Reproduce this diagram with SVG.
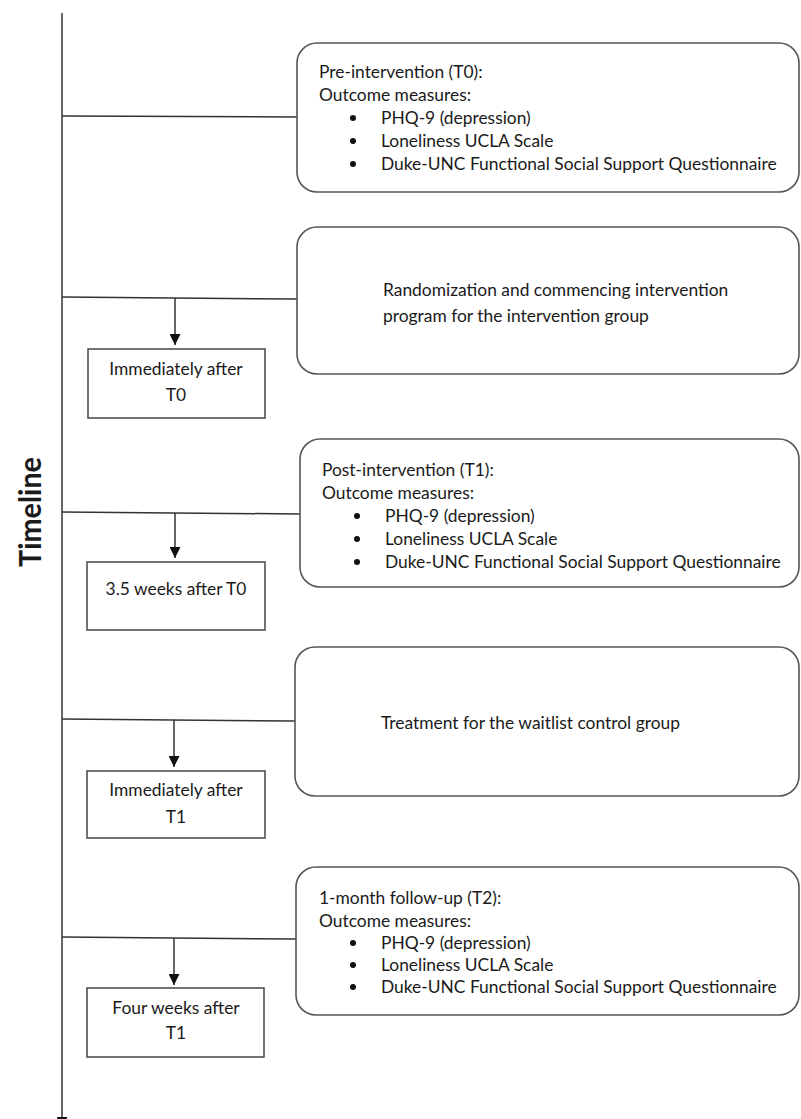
<svg xmlns="http://www.w3.org/2000/svg" width="801" height="1119" viewBox="0 0 801 1119">
<defs>
<marker id="ah" viewBox="0 0 10 10" refX="10" refY="5" markerWidth="11" markerHeight="11" markerUnits="userSpaceOnUse" orient="auto">
<path d="M0,0 L10,5 L0,10 Z" fill="#111"/>
</marker>
</defs>
<style>
.ln{stroke:#333;stroke-width:1.5;fill:none}
.rb{fill:#fff;stroke:#555;stroke-width:1.6}
.sb{fill:#fff;stroke:#444;stroke-width:1.5}
text{font-family:Lato,"Liberation Sans",sans-serif;font-size:17.4px;fill:#1a1a1a}
.c{text-anchor:middle}
.bul{fill:#111}
</style>
<rect width="801" height="1119" fill="#fff"/>
<g id="connectors">
<line class="ln" x1="62" y1="13" x2="62" y2="1128" marker-end="url(#ah)"/>
<line class="ln" x1="62" y1="116" x2="297" y2="117"/>
<line class="ln" x1="62" y1="297" x2="297" y2="299"/>
<line class="ln" x1="62" y1="512" x2="300" y2="514"/>
<line class="ln" x1="62" y1="719" x2="295" y2="721"/>
<line class="ln" x1="62" y1="937" x2="296" y2="939"/>
<line class="ln" x1="175" y1="298" x2="175" y2="345" marker-end="url(#ah)"/>
<line class="ln" x1="175" y1="513" x2="175" y2="558" marker-end="url(#ah)"/>
<line class="ln" x1="174" y1="720" x2="174" y2="767" marker-end="url(#ah)"/>
<line class="ln" x1="174" y1="938" x2="174" y2="985" marker-end="url(#ah)"/>
</g>
<g id="timeline-label">
<text transform="translate(41,512) rotate(-90)" class="c" style="font-size:30px;font-weight:bold" textLength="110" lengthAdjust="spacingAndGlyphs">Timeline</text>
</g>
<g id="t0">
<rect class="rb" x="297" y="43" width="502" height="149" rx="20"/>
<text x="319" y="78">Pre-intervention (T0):</text>
<text x="319" y="101">Outcome measures:</text>
<circle class="bul" cx="353" cy="118" r="3"/><text x="381" y="124">PHQ-9 (depression)</text>
<circle class="bul" cx="353" cy="141" r="3"/><text x="381" y="147">Loneliness UCLA Scale</text>
<circle class="bul" cx="353" cy="164" r="3"/><text x="381" y="170">Duke-UNC Functional Social Support Questionnaire</text>
</g>
<g id="randomization">
<rect class="rb" x="297" y="227" width="502" height="147" rx="20"/>
<text x="383" y="296">Randomization and commencing intervention</text>
<text x="383" y="322">program for the intervention group</text>
</g>
<g id="immediately-t0">
<rect class="sb" x="88" y="349" width="177" height="69"/>
<text class="c" x="176" y="375">Immediately after</text>
<text class="c" x="176" y="401">T0</text>
</g>
<g id="t1">
<rect class="rb" x="300" y="439" width="499" height="148" rx="20"/>
<text x="322" y="476">Post-intervention (T1):</text>
<text x="322" y="499">Outcome measures:</text>
<circle class="bul" cx="357" cy="516" r="3"/><text x="385" y="522">PHQ-9 (depression)</text>
<circle class="bul" cx="357" cy="539" r="3"/><text x="385" y="545">Loneliness UCLA Scale</text>
<circle class="bul" cx="357" cy="562" r="3"/><text x="385" y="568">Duke-UNC Functional Social Support Questionnaire</text>
</g>
<g id="weeks-t0">
<rect class="sb" x="87" y="562" width="178" height="68"/>
<text class="c" x="176" y="595">3.5 weeks after T0</text>
</g>
<g id="waitlist">
<rect class="rb" x="295" y="647" width="504" height="149" rx="20"/>
<text x="381" y="729">Treatment for the waitlist control group</text>
</g>
<g id="immediately-t1">
<rect class="sb" x="87" y="771" width="178" height="67"/>
<text class="c" x="176" y="796">Immediately after</text>
<text class="c" x="176" y="823">T1</text>
</g>
<g id="t2">
<rect class="rb" x="296" y="867" width="503" height="148" rx="20"/>
<text x="319" y="904">1-month follow-up (T2):</text>
<text x="319" y="927">Outcome measures:</text>
<circle class="bul" cx="353" cy="943" r="3"/><text x="381" y="949">PHQ-9 (depression)</text>
<circle class="bul" cx="353" cy="965" r="3"/><text x="381" y="971">Loneliness UCLA Scale</text>
<circle class="bul" cx="353" cy="987" r="3"/><text x="381" y="993">Duke-UNC Functional Social Support Questionnaire</text>
</g>
<g id="four-weeks-t1">
<rect class="sb" x="87" y="988" width="177" height="69"/>
<text class="c" x="176" y="1014">Four weeks after</text>
<text class="c" x="176" y="1039">T1</text>
</g>
</svg>
